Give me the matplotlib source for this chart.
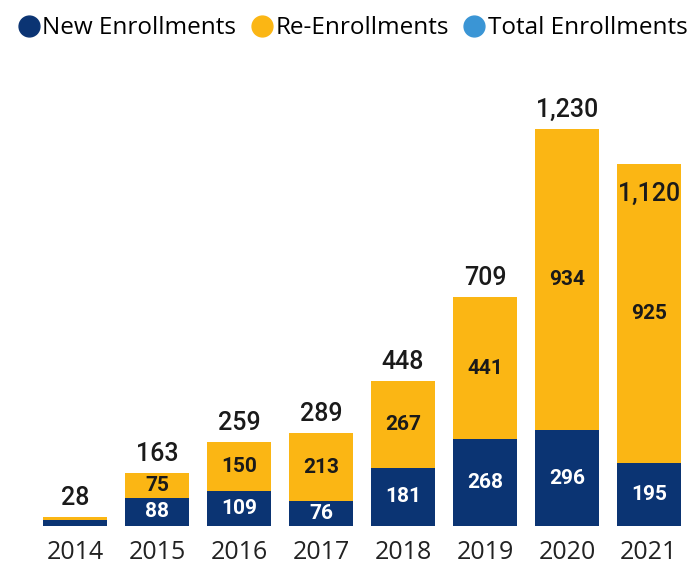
import numpy as np
import matplotlib
matplotlib.use("Agg")
import matplotlib.pyplot as plt
from matplotlib.lines import Line2D

years = ["2014", "2015", "2016", "2017", "2018", "2019", "2020", "2021"]
new_enr = [18, 88, 109, 76, 181, 268, 296, 195]
re_enr = [10, 75, 150, 213, 267, 441, 934, 925]
totals = [28, 163, 259, 289, 448, 709, 1230, 1120]

c_new = "#0b3473"
c_re = "#fbb614"
c_tot = "#3a95d5"

plt.rcParams['font.family'] = ['Open Sans', 'DejaVu Sans']
lab_font = ['Roboto', 'DejaVu Sans']

fig = plt.figure(figsize=(6.96, 5.65), dpi=100)
ax = fig.add_axes([30/696, 39/565, 664/696, 466/565])

x = np.arange(len(years))
w = 0.78
ax.bar(x, new_enr, w, color=c_new)
ax.bar(x, re_enr, w, bottom=new_enr, color=c_re)

for i in range(len(years)):
    if i > 0:
        ax.text(x[i], new_enr[i] / 2, f"{new_enr[i]:,}", ha='center', va='center',
                color='white', fontsize=15, fontweight='bold', family=lab_font)
        ax.text(x[i], new_enr[i] + re_enr[i] / 2, f"{re_enr[i]:,}", ha='center', va='center',
                color='#1a1a1a', fontsize=15, fontweight='bold', family=lab_font)
    if years[i] == "2021":
        # label sits inside the bar top in the original
        ax.annotate(f"{totals[i]:,}", (x[i], totals[i]), xytext=(0, -21), textcoords='offset points',
                    ha='center', va='center', fontsize=18, fontweight='medium',
                    color='#1a1a1a', family=lab_font)
    else:
        ax.annotate(f"{totals[i]:,}", (x[i], totals[i]), xytext=(0, 5), textcoords='offset points',
                    ha='center', va='bottom', fontsize=18, fontweight='medium',
                    color='#1a1a1a', family=lab_font)

ax.set_xlim(-0.55, 7.55)
ax.set_ylim(0, 1443)
ax.set_xticks(x)
ax.set_xticklabels(years, fontsize=18, color='#222222')
ax.tick_params(axis='x', length=0, pad=10)
ax.set_yticks([])
for s in ax.spines.values():
    s.set_visible(False)

handles = [Line2D([], [], marker='o', ls='', markersize=15, color=c) for c in (c_new, c_re, c_tot)]
fig.legend(handles, ["New Enrollments", "Re-Enrollments", "Total Enrollments"],
           loc='upper center', bbox_to_anchor=(0.505, 1.01), ncol=3, frameon=False,
           fontsize=17.5, handletextpad=0.0, columnspacing=0.5, handlelength=1.1)

fig.savefig("out.png", dpi=100)
